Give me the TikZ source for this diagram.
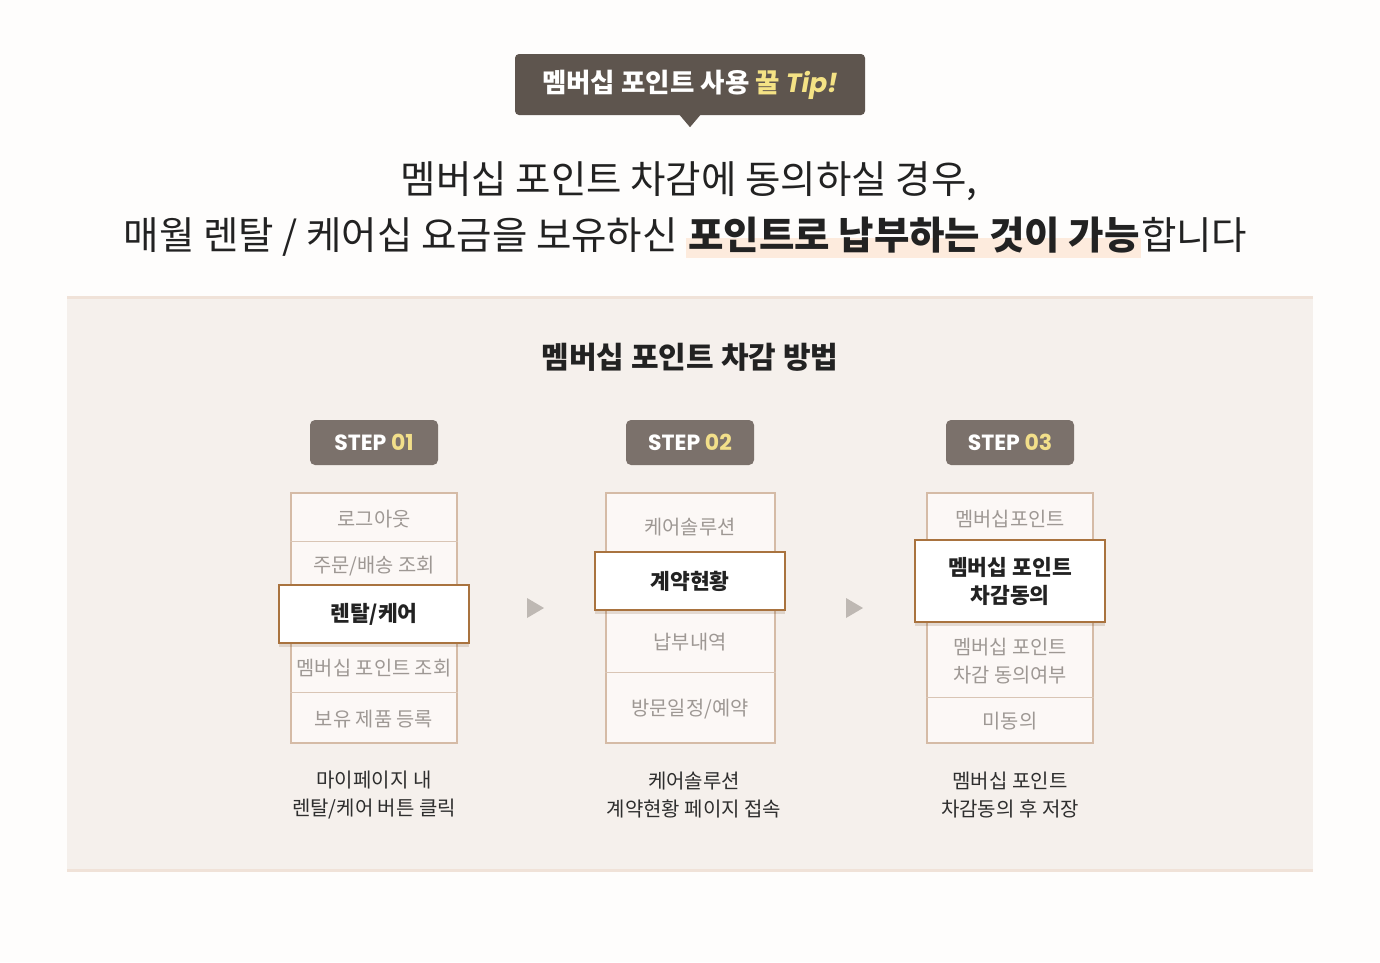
\documentclass[tikz,border=0pt]{standalone}
\usepackage{fontspec}
\setmainfont{Noto Sans CJK KR}
\newfontfamily\pop{Poppins}
\usetikzlibrary{shadows,backgrounds,calc}
\definecolor{pagebg}{HTML}{FEFDFC}
\definecolor{tipfill}{HTML}{5E554E}
\definecolor{tipyellow}{HTML}{F4E285}
\definecolor{badgefill}{HTML}{7B716B}
\definecolor{badgeyellow}{HTML}{F2DF8A}
\definecolor{panelfill}{HTML}{F5F0EC}
\definecolor{panelline}{HTML}{F0E2D8}
\definecolor{listborder}{HTML}{D5BBA6}
\definecolor{listfill}{HTML}{FCF8F6}
\definecolor{sepline}{HTML}{D9C5B5}
\definecolor{hiborder}{HTML}{A9733F}
\definecolor{graytext}{HTML}{9E9894}
\definecolor{darktext}{HTML}{222222}
\definecolor{captext}{HTML}{2E2E2E}
\definecolor{arrowgray}{HTML}{BEB8B3}
\definecolor{peach}{HTML}{FDEBDD}
\begin{document}
\begin{tikzpicture}[x=1pt,y=-1pt,
  tipbox/.style={fill=tipfill, rounded corners=4pt, minimum width=350pt, minimum height=61pt, inner sep=0pt, text=white},
  heading/.style={inner sep=0pt, text=darktext, font=\fontsize{38.5}{46}\selectfont},
  badge/.style={fill=badgefill, rounded corners=5pt, minimum width=128pt, minimum height=45pt, inner sep=0pt, text=white, font=\pop\bfseries\fontsize{22}{26}\selectfont},
  listbox/.style={draw=listborder, line width=2pt, fill=listfill, minimum width=166pt, minimum height=250pt, inner sep=0pt},
  hibox/.style={draw=hiborder, line width=2pt, fill=white, minimum width=190pt, inner sep=0pt, align=center, text=darktext,
     font=\bfseries\fontsize{21.5}{28}\selectfont,
     drop shadow={shadow xshift=0pt, shadow yshift=-4pt, opacity=0.18, fill=hiborder!70!black}},
  item/.style={inner sep=0pt, text=graytext, align=center, yshift=-1.5pt, font=\fontsize{19.8}{28}\selectfont},
  sep/.style={draw=sepline, line width=1pt},
  caption/.style={inner sep=0pt, text=captext, align=center, yshift=-2pt, font=\fontsize{20}{28}\selectfont},
  arrowtri/.style={fill=arrowgray}
]
\useasboundingbox (0,0) rectangle (1380,962);
\begin{pgfonlayer}{background}
\fill[pagebg] (0,0) rectangle (1380,962);
\end{pgfonlayer}

% tip badge
\node[tipbox] (tip) at (690,84.5) {\bfseries\fontsize{26.5}{32}\selectfont 멤버십 포인트 사용 \textcolor{tipyellow}{꿀 {\pop\itshape Tip!}}};
\fill[tipfill] ($(tip.south)+(-11,-1)$) -- ++(22,0) -- ++(-11,13) -- cycle;

% heading
\node[heading] (h1) at (689,181) {멤버십 포인트 차감에 동의하실 경우,};
\node[heading, anchor=base west, font=\bfseries\fontsize{38.5}{46}\selectfont] (h2b) at (688,249) {포인트로 납부하는 것이 가능};
\node[heading, anchor=base east] (h2a) at ($(h2b.base west)+(-10,0)$) {매월 렌탈 / 케어십 요금을 보유하신};
\node[heading, anchor=base west] (h2c) at ($(h2b.base east)+(1,0)$) {합니다};
\begin{pgfonlayer}{background}
\fill[peach] ($(h2b.base west)+(-2,-11)$) rectangle ($(h2b.base east)+(1,9)$);
\end{pgfonlayer}

% panel
\fill[panelfill] (67,296) rectangle (1313,872);
\draw[panelline, line width=3pt] (67,297.5) -- (1313,297.5);
\draw[panelline, line width=3pt] (67,870.5) -- (1313,870.5);
\node[inner sep=0pt, text=darktext, font=\bfseries\fontsize{30}{36}\selectfont] (ptitle) at (690,357) {멤버십 포인트 차감 방법};

% badges
\node[badge] (b1) at (374,442.5) {STEP \textcolor{badgeyellow}{01}};
\node[badge] (b2) at (690,442.5) {STEP \textcolor{badgeyellow}{02}};
\node[badge] (b3) at (1010,442.5) {STEP \textcolor{badgeyellow}{03}};

% step 1
\node[listbox] (l1) at (374,618) {};
\draw[sep] (l1.west |- 0,541) coordinate (s1a) -- (l1.east |- 0,541) coordinate (s1b);
\draw[sep] (l1.west |- 0,692) coordinate (s1c) -- (l1.east |- 0,692) coordinate (s1d);
\node[item] (l1a) at (374,518) {로그아웃};
\node[item] (l1b) at (374,565) {주문/배송 조회};
\node[hibox, minimum height=58pt] (l1h) at (374,614) {렌탈/케어};
\node[item] (l1c) at (374,667) {멤버십 포인트 조회};
\node[item] (l1d) at (374,718) {보유 제품 등록};

% step 2
\node[listbox, minimum width=169pt] (l2) at (690.5,618) {};
\draw[sep] (l2.west |- 0,672) coordinate (s2a) -- (l2.east |- 0,672) coordinate (s2b);
\node[item] (l2a) at (690,526) {케어솔루션};
\node[hibox, minimum height=58pt] (l2h) at (690,581) {계약현황};
\node[item] (l2b) at (690,641) {납부내역};
\node[item] (l2c) at (690,708) {방문일정/예약};

% step 3
\node[listbox] (l3) at (1010,618) {};
\draw[sep] (l3.west |- 0,697) coordinate (s3a) -- (l3.east |- 0,697) coordinate (s3b);
\node[item] (l3a) at (1010,518) {멤버십포인트};
\node[hibox, minimum height=82pt] (l3h) at (1010,581) {멤버십 포인트\\차감동의};
\node[item] (l3b) at (1010,660) {멤버십 포인트\\차감 동의여부};
\node[item] (l3c) at (1010,720) {미동의};

% arrows between steps
\fill[arrowgray] (527,598) -- (527,618) -- (544,608) -- cycle;
\fill[arrowgray] (846,598) -- (846,618) -- (863,608) -- cycle;

% captions
\node[caption] (c1) at (374,793) {마이페이지 내\\렌탈/케어 버튼 클릭};
\node[caption] (c2) at (694,793) {케어솔루션\\계약현황 페이지 접속};
\node[caption] (c3) at (1010,793) {멤버십 포인트\\차감동의 후 저장};
\end{tikzpicture}
\end{document}
